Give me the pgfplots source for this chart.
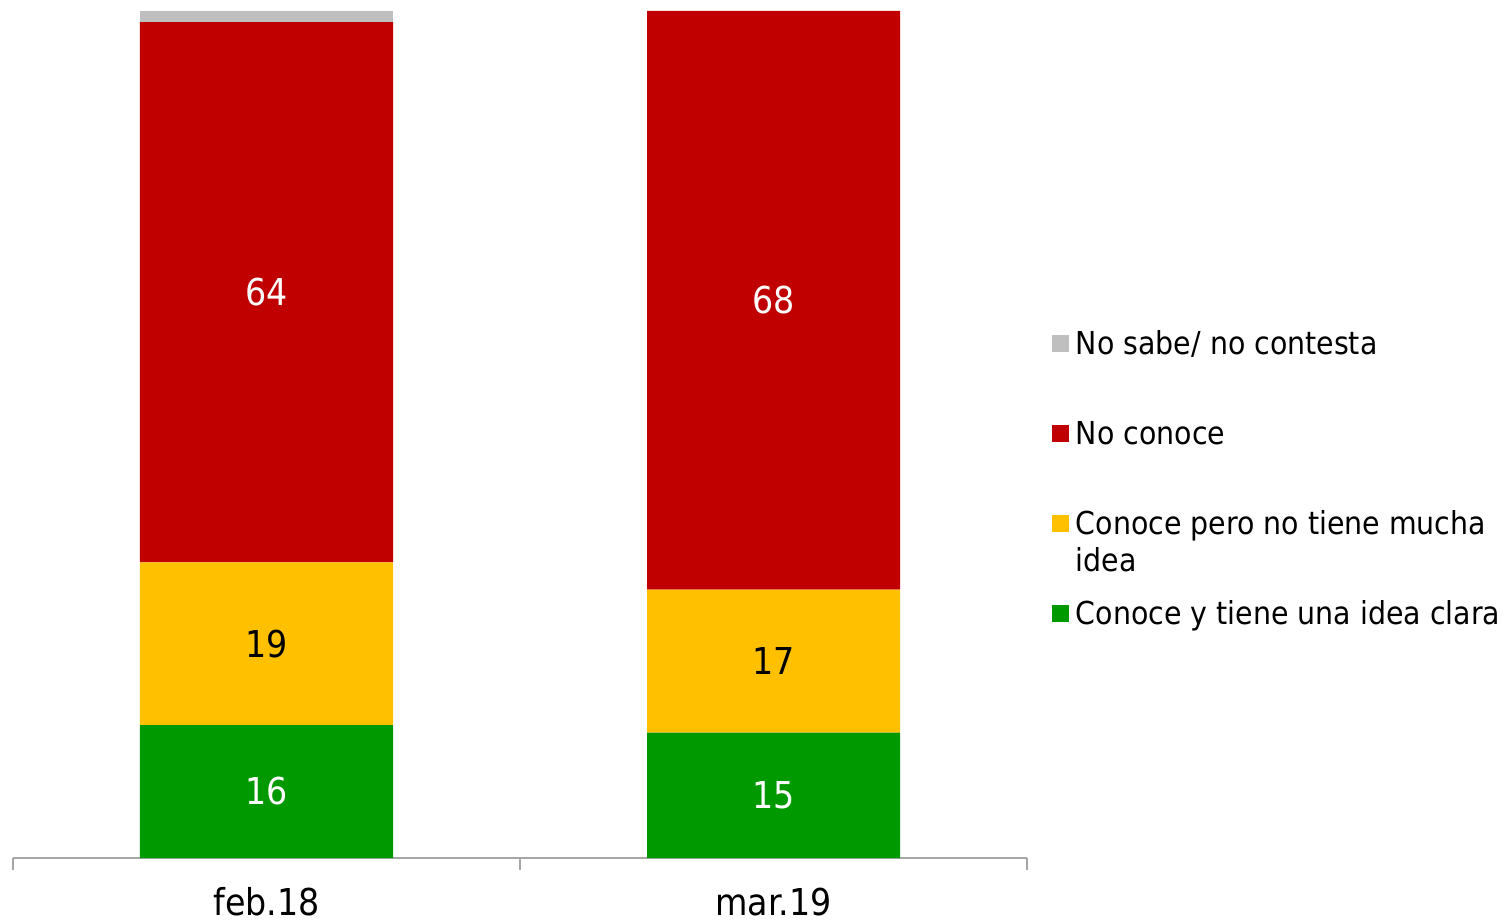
\documentclass[border=0pt]{standalone}
\usepackage{pgfplots}
\pgfplotsset{compat=1.18}
\usepackage{fontspec}
\setmainfont{DejaVu Sans Condensed}

\definecolor{nsnc}{HTML}{BFBFBF}
\definecolor{noconoce}{HTML}{C00000}
\definecolor{pocaidea}{HTML}{FFC000}
\definecolor{ideaclara}{HTML}{009900}
\definecolor{axgray}{HTML}{A6A6A6}

\newsavebox{\ideabox}

\begin{document}%
\sbox{\ideabox}{\fontsize{15.8}{18.5}\selectfont\strut\smash{\begin{tabular}[t]{@{}l@{}}Conoce pero no tiene mucha\\idea\end{tabular}}}%
\begin{tikzpicture}
  \begin{axis}[
    name=ax,
    scale only axis,
    width=507pt, height=423.5pt,
    ybar stacked,
    bar width=126.5pt,
    xmin=-0.5, xmax=1.5,
    ymin=0, ymax=100,
    axis x line*=bottom,
    hide y axis,
    axis line style={draw=axgray, line width=0.75pt},
    xtick={-0.5,0.5,1.5},
    xticklabels={},
    tick align=outside,
    major tick length=6pt,
    tick style={draw=axgray, line width=0.75pt},
    extra x ticks={0,1},
    extra x tick labels={feb.18,mar.19},
    extra x tick style={
      major tick length=0pt,
      xticklabel style={inner sep=0pt, anchor=base, yshift=-28.5pt,
        text depth=0pt, font=\fontsize{18.5}{22}\selectfont},
    },
    legend cell align=left,
    reverse legend,
    legend image code/.code={
      \fill[#1] (0pt,-4.25pt) rectangle (8.5pt,4.25pt);
    },
    legend style={
      draw=none, fill=none,
      inner sep=0pt, outer sep=0pt,
      at={(axis description cs:1.02465,0.6245)},
      anchor=north west,
      row sep=30.5pt,
      column sep=3.5pt,
      font=\fontsize{15.8}{18.5}\selectfont,
      nodes={inner sep=0pt},
    },
    clip=false,
  ]
    \addplot[fill=ideaclara, draw=none] coordinates {(0,15.7) (1,14.8)};
    \addlegendentry{\strut Conoce y tiene una idea clara}
    \addplot[fill=pocaidea, draw=none] coordinates {(0,19.2) (1,16.9)};
    \addlegendentry{\usebox{\ideabox}}
    \addplot[fill=noconoce, draw=none] coordinates {(0,63.8) (1,68.3)};
    \addlegendentry{\strut No conoce}
    \addplot[fill=nsnc, draw=none] coordinates {(0,1.3) (1,0)};
    \addlegendentry{\strut No sabe/ no contesta}
  \end{axis}

  % value labels, centred in each segment (overlay axis, no stacking)
  \begin{axis}[
    at={(ax.south west)}, anchor=south west,
    scale only axis,
    width=507pt, height=423.5pt,
    xmin=-0.5, xmax=1.5,
    ymin=0, ymax=100,
    hide axis,
    clip=false,
    nodes near coords,
    point meta=explicit symbolic,
    nodes near coords align=center,
  ]
    \addplot[only marks, mark=*, mark size=0pt, mark options={draw=none, fill=none},
      every node near coord/.append style={anchor=center, text=white,
        font=\fontsize{18.5}{22}\selectfont}]
      coordinates {(0,7.85)[16] (0,66.8)[64] (1,7.4)[15] (1,65.85)[68]};
    \addplot[only marks, mark=*, mark size=0pt, mark options={draw=none, fill=none},
      every node near coord/.append style={anchor=center, text=black,
        font=\fontsize{18.5}{22}\selectfont}]
      coordinates {(0,25.3)[19] (1,23.25)[17]};
  \end{axis}
  \pgfresetboundingbox
  \path[use as bounding box] ([shift={(-6.5pt,-32pt)}]ax.south west)
    rectangle ([shift={(747.5pt,429pt)}]ax.south west);
\end{tikzpicture}
\end{document}
